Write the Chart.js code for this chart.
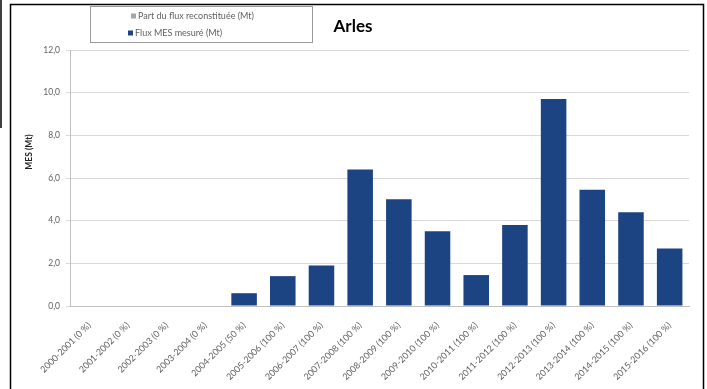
<!DOCTYPE html>
<html>
<head>
<meta charset="utf-8">
<script src="https://cdn.jsdelivr.net/npm/chart.js@4/dist/chart.umd.min.js"></script>
<style>
  html, body { margin: 0; padding: 0; background: #fff; }
  #wrap { width: 707px; height: 389px; }
</style>
</head>
<body>
<div id="wrap"><canvas id="flux" width="707" height="389"></canvas></div>
<script>
const seasons = [
  '2000-2001', '2001-2002', '2002-2003', '2003-2004', '2004-2005', '2005-2006',
  '2006-2007', '2007-2008', '2008-2009', '2009-2010', '2010-2011', '2011-2012',
  '2012-2013', '2013-2014', '2014-2015', '2015-2016'
];
const coverage = ['0 %', '0 %', '0 %', '0 %', '50 %', '100 %', '100 %', '100 %',
  '100 %', '100 %', '100 %', '100 %', '100 %', '100 %', '100 %', '100 %'];
const fluxMesure = [0, 0, 0, 0, 0.6, 1.4, 1.9, 6.4, 5.0, 3.5, 1.45, 3.8, 9.7, 5.45, 4.4, 2.7];
const fluxReconstitue = [0, 0, 0, 0, 0, 0, 0, 0, 0, 0, 0, 0, 0, 0, 0, 0];
const yMax = 12;
const yStep = 2;

const labels = seasons.map((s, i) => s + ' (' + coverage[i] + ')');
const navy = '#1c4382';
const grey = '#a6a6a6';
const font = 'Lato, "Liberation Sans", sans-serif';

// frame, legend box, title and y-axis name drawn around the plot
const decorations = {
  id: 'decorations',
  afterDraw(chart) {
    const ctx = chart.ctx;
    ctx.save();
    ctx.strokeStyle = '#000';
    ctx.lineWidth = 1.5;
    ctx.beginPath();
    ctx.moveTo(10.5, 389); ctx.lineTo(10.5, 4.5); ctx.lineTo(703.5, 4.5); ctx.lineTo(703.5, 389);
    ctx.stroke();
    ctx.beginPath();
    ctx.moveTo(1, 0); ctx.lineTo(1, 128);
    ctx.stroke();

    // legend
    ctx.lineWidth = 1;
    ctx.strokeStyle = '#9a9a9a';
    ctx.strokeRect(90.5, 6.5, 222, 36);
    const items = chart.data.datasets.slice().reverse();
    ctx.font = '9px ' + font;
    ctx.textBaseline = 'middle';
    ctx.textAlign = 'left';
    items.forEach((ds, i) => {
      const y = 16 + i * 17;
      const x = i === 0 ? 131 : 128;
      ctx.fillStyle = ds.backgroundColor;
      ctx.fillRect(x, y - 2.5, 5, 5);
      ctx.fillStyle = '#606060';
      ctx.fillText(ds.label, x + 7, y);
    });

    // title
    ctx.font = 'bold 17px ' + font;
    ctx.fillStyle = '#000';
    ctx.textAlign = 'center';
    ctx.fillText('Arles', 353, 27);

    // y-axis name
    ctx.translate(29, 152);
    ctx.rotate(-Math.PI / 2);
    ctx.font = 'bold 8.5px ' + font;
    ctx.fillStyle = '#222';
    ctx.fillText('MES (Mt)', 0, 0);
    ctx.restore();
  }
};

new Chart(document.getElementById('flux'), {
  type: 'bar',
  data: {
    labels: labels,
    datasets: [
      {
        label: 'Flux MES mesuré (Mt)',
        data: fluxMesure,
        backgroundColor: navy,
        barPercentage: 0.66,
        categoryPercentage: 1
      },
      {
        label: 'Part du flux reconstituée (Mt)',
        data: fluxReconstitue,
        backgroundColor: grey,
        barPercentage: 0.66,
        categoryPercentage: 1
      }
    ]
  },
  options: {
    responsive: false,
    animation: false,
    devicePixelRatio: 1,
    layout: { padding: { top: 50, right: 18, bottom: 0, left: 0 } },
    plugins: {
      legend: { display: false },
      tooltip: { enabled: false }
    },
    scales: {
      x: {
        stacked: true,
        grid: { display: false },
        border: { color: '#bfbfbf' },
        ticks: {
          autoSkip: false,
          minRotation: 45,
          maxRotation: 45,
          padding: 6,
          color: '#606060',
          font: { family: font, size: 9 }
        },
        afterFit(scale) { scale.height = 83; }
      },
      y: {
        stacked: true,
        min: 0,
        max: yMax,
        grid: { color: '#d9d9d9', drawTicks: true, tickLength: 4 },
        border: { color: '#bfbfbf' },
        ticks: {
          stepSize: yStep,
          color: '#606060',
          padding: 6,
          font: { family: font, size: 8.5 },
          callback: v => v.toFixed(1).replace('.', ',')
        },
        afterFit(scale) { scale.width = 70; }
      }
    }
  },
  plugins: [decorations]
});
</script>
</body>
</html>
